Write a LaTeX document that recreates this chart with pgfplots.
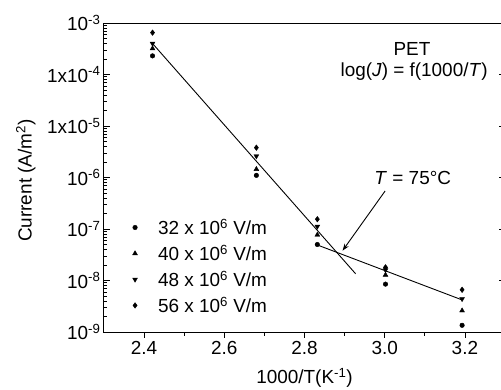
\documentclass[border=0pt]{standalone}
\usepackage{fontspec}
\setmainfont{Liberation Sans}
\usepackage{pgfplots}
\pgfplotsset{compat=1.18}
\usetikzlibrary{arrows.meta}
\begin{document}
\begin{tikzpicture}
\begin{axis}[
  scale only axis, width=401bp, height=309bp,
  xmin=2.3, xmax=3.3, ymin=1e-9, ymax=1e-3, ymode=log,
  xtick={2.4,2.6,2.8,3.0,3.2}, minor xtick={2.5,2.7,2.9,3.1},
  major tick length=6bp, minor tick length=3.5bp,
  every tick/.style={black, line width=0.8bp},
  axis line style={line width=1bp},
  xtick pos=bottom, xtick align=outside,
  ytick pos=both, ytick align=inside,
  ytick={1e-9,1e-8,1e-7,1e-6,1e-5,1e-4,1e-3},
  yticklabels={10\textsuperscript{-9},10\textsuperscript{-8},10\textsuperscript{-7},10\textsuperscript{-6},1x10\textsuperscript{-5},1x10\textsuperscript{-4},10\textsuperscript{-3}},
  /pgf/number format/assume math mode=true,
  xticklabel style={/pgf/number format/fixed,/pgf/number format/fixed zerofill,/pgf/number format/precision=1},
  tick label style={font=\fontsize{19}{22}\selectfont},
  label style={font=\fontsize{19}{22}\selectfont},
  xlabel={1000/T(K\textsuperscript{-1})},
  ylabel={Current (A/m\textsuperscript{2})},
  xlabel style={at={(axis description cs:0.5,-0.149)}, anchor=center},
  ylabel style={at={(axis description cs:-0.195,0.49)}, anchor=center},
  legend cell align=left,
  legend style={at={(rel axis cs:0.062,0.045)}, anchor=south west, draw=none, fill=none,
    font=\fontsize{19}{22}\selectfont, row sep=5bp},
  legend image code/.code={\draw[#1] plot coordinates {(0bp,0bp)}; \path[draw=none] (-3bp,0bp) -- (21bp,0bp);},
]
\addplot[only marks, mark=*, mark size=2.3bp, black] coordinates {
 (2.421,2.3e-4) (2.680,1.1e-6) (2.832,5.0e-8) (3.002,8.5e-9) (3.193,1.35e-9)};
\addlegendentry{32 x 10\textsuperscript{6} V/m}
\addplot[only marks, mark=triangle*, mark size=2.8bp, black] coordinates {
 (2.421,3.2e-4) (2.680,1.45e-6) (2.832,7.7e-8) (3.002,1.28e-8) (3.193,2.6e-9)};
\addlegendentry{40 x 10\textsuperscript{6} V/m}
\addplot[only marks, mark=triangle*, mark options={rotate=180}, mark size=2.8bp, black] coordinates {
 (2.421,4.0e-4) (2.680,2.6e-6) (2.832,1.12e-7) (3.002,1.6e-8) (3.193,4.4e-9)};
\addlegendentry{48 x 10\textsuperscript{6} V/m}
\addplot[only marks, mark=diamond*, mark size=2.8bp, black] coordinates {
 (2.421,6.5e-4) (2.680,3.8e-6) (2.832,1.55e-7) (3.002,1.8e-8) (3.193,6.6e-9)};
\addlegendentry{56 x 10\textsuperscript{6} V/m}
\addplot[black, line width=0.9bp, forget plot] coordinates {(2.421,4.0e-4) (2.9275,1.35e-8)};
\addplot[black, line width=0.9bp, forget plot] coordinates {(2.832,4.9e-8) (3.193,4.2e-9)};
\draw[-{Stealth[length=7bp,width=5bp]}, line width=0.9bp] (axis cs:3.001,5.47e-7) -- (axis cs:2.895,3.8e-8);
\node[font=\fontsize{19}{22}\selectfont] at (axis cs:3.07,1.0e-6) {\textit{T} = 75°C};
\node[font=\fontsize{19}{22}\selectfont, inner sep=0pt] at (rel axis cs:0.768,0.915) {PET};
\node[font=\fontsize{19}{22}\selectfont, anchor=east, inner sep=0pt] at (rel axis cs:0.957,0.843) {log(\textit{J}) = f(1000/\textit{T})};
\draw[line width=0.8bp] (axis cs:2.4,1e-3) -- ++(0,-6bp);
\draw[line width=0.8bp] (axis cs:2.6,1e-3) -- ++(0,-6bp);
\draw[line width=0.8bp] (axis cs:2.8,1e-3) -- ++(0,-6bp);
\draw[line width=0.8bp] (axis cs:3.0,1e-3) -- ++(0,-6bp);
\draw[line width=0.8bp] (axis cs:3.2,1e-3) -- ++(0,-6bp);
\draw[line width=0.8bp] (axis cs:2.5,1e-3) -- ++(0,-3.5bp);
\draw[line width=0.8bp] (axis cs:2.7,1e-3) -- ++(0,-3.5bp);
\draw[line width=0.8bp] (axis cs:2.9,1e-3) -- ++(0,-3.5bp);
\draw[line width=0.8bp] (axis cs:3.1,1e-3) -- ++(0,-3.5bp);
\end{axis}
\pgfresetboundingbox
\useasboundingbox (-104bp,-58bp) rectangle (397bp,332bp);
\end{tikzpicture}
\end{document}
